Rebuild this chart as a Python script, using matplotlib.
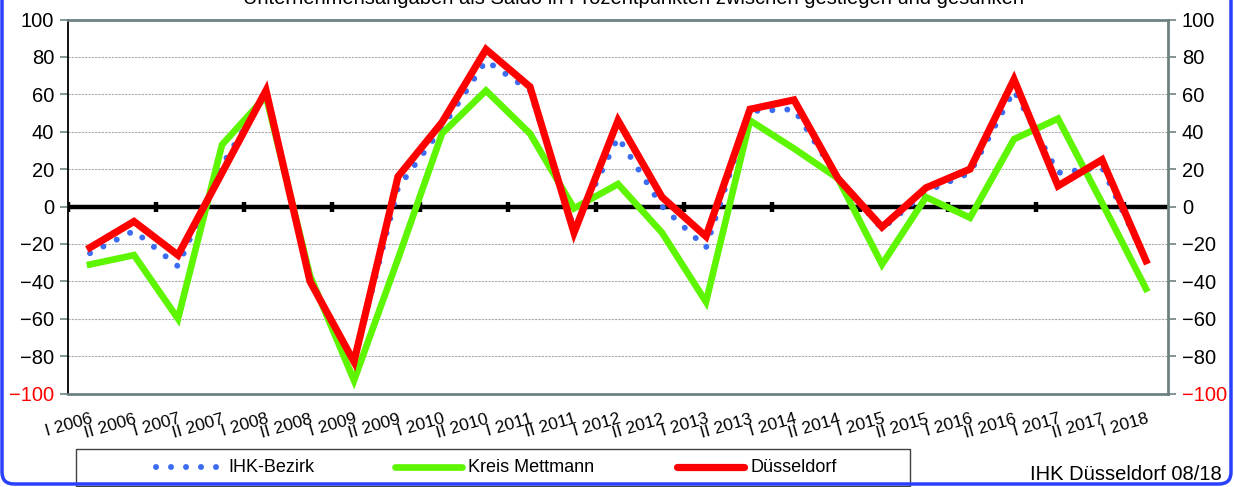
import numpy as np
import matplotlib
matplotlib.use("Agg")
import matplotlib.pyplot as plt
from matplotlib.lines import Line2D
from matplotlib.patches import Rectangle, FancyBboxPatch
import matplotlib.transforms as mtransforms

plt.rcParams['font.family'] = ['Liberation Sans', 'DejaVu Sans']

# Halbjahre
labels = ['I 2006', 'II 2006', 'I 2007', 'II 2007', 'I 2008', 'II 2008',
          'I 2009', 'II 2009', 'I 2010', 'II 2010', 'I 2011', 'II 2011',
          'I 2012', 'II 2012', 'I 2013', 'II 2013', 'I 2014', 'II 2014',
          'I 2015', 'II 2015', 'I 2016', 'II 2016', 'I 2017', 'II 2017',
          'I 2018']

ihk_bezirk = [-25, -13, -32, 22, 61, -40, -83, 10, 42, 78, 62, -12, 37,
              0, -22, 51, 52, 15, -12, 8, 18, 62, 18, 21, -29]
kreis_mettmann = [-31, -26, -60, 33, 59, -37, -93, -28, 39, 62, 39, -1, 12,
                  -14, -51, 46, 31, 15, -31, 5, -6, 36, 47, 2, -44]
duesseldorf = [-22, -8, -26, 18, 62, -40, -83, 16, 45, 84, 64, -14, 46,
               5, -16, 52, 57, 15, -11, 10, 20, 68, 11, 25, -29]

yticks = [100, 80, 60, 40, 20, 0, -20, -40, -60, -80, -100]

W, H = 1234, 487
BLUE = '#3b6cf2'
GREEN = '#5ef500'
RED = '#ff0000'
SPINE = '#6f8282'


def fx(px):
    return px / W


def fy(py):
    return 1 - py / H


fig = plt.figure(figsize=(W / 100, H / 100), dpi=100)
ax = fig.add_axes([fx(68), fy(393.5), 1100 / W, 374 / H])

x = np.arange(len(labels))

ax.axhline(0, color='black', lw=3.2, zorder=2)
bounds = np.arange(-0.5, len(labels) - 1, 2)
ax.plot(bounds, np.zeros(len(bounds)), ls='none', marker='|', ms=7.5,
        mew=3.2, color='black', zorder=2)

dot_style = (0, (0.01, 2.5))
ax.plot(x, ihk_bezirk, color=BLUE, lw=4.3, ls=dot_style,
        dash_capstyle='round', zorder=3)
ax.plot(x, kreis_mettmann, color=GREEN, lw=4.8, zorder=4,
        solid_joinstyle='miter')
ax.plot(x, duesseldorf, color=RED, lw=5.2, zorder=5, solid_joinstyle='miter')

ax.set_xlim(-0.5, len(labels) - 0.5)
ax.set_ylim(-100, 100)
ax.set_yticks(yticks)
ax.yaxis.grid(True, color='#a8a8a8', lw=0.8, ls=(0, (2, 1)))
ax.set_axisbelow(True)

ax.yaxis.set_ticks_position('both')
ax.tick_params(axis='y', which='major', direction='out', length=6, width=1.2,
               color=SPINE, labelsize=14.5, labelright=True, pad=4)

ax.set_xticks(x)
ax.set_xticklabels(labels, rotation=16, ha='right', va='top',
                   rotation_mode='anchor', fontsize=12.5)
ax.tick_params(axis='x', length=0, pad=13)

for side in ['top', 'right', 'bottom']:
    ax.spines[side].set_color(SPINE)
    ax.spines[side].set_linewidth(2)
ax.spines['left'].set_color('black')
ax.spines['left'].set_linewidth(1.3)

fig.text(0.513, fy(4), 'Unternehmensangaben als Saldo in Prozentpunkten '
         'zwischen gestiegen und gesunken', ha='center', va='baseline',
         fontsize=14.5)

# Legende
fig.add_artist(Rectangle((fx(76), fy(486)), (910 - 76) / W, 37 / H,
                         transform=fig.transFigure, fill=False,
                         edgecolor='#404040', lw=1))
ly = fy(467)
entries = [(156, 220, 228, 'IHK-Bezirk', BLUE, dot_style, 4.3),
           (395, 462, 468, 'Kreis Mettmann', GREEN, '-', 4.8),
           (677, 744, 751, 'Düsseldorf', RED, '-', 5.2)]
for x0, x1, xt, name, col, style, lw in entries:
    fig.add_artist(Line2D([fx(x0), fx(x1)], [ly, ly], transform=fig.transFigure,
                          color=col, lw=lw, ls=style, dash_capstyle='round',
                          solid_capstyle='round'))
    fig.text(fx(xt), ly, name, ha='left', va='center', fontsize=13)

fig.text(fx(1222), fy(474), 'IHK Düsseldorf 08/18', ha='right', va='center',
         fontsize=14.5)

# blauer Rahmen
frame = FancyBboxPatch((2, 3), 1229, 600, boxstyle='round,pad=0,rounding_size=12',
                       transform=mtransforms.IdentityTransform(), fill=False,
                       edgecolor='#2a40ff', lw=2.5)
fig.add_artist(frame)

# -100 rot
fig.canvas.draw()
for t in ax.yaxis.get_major_ticks():
    if np.isclose(t.get_loc(), -100):
        t.label1.set_color(RED)
        t.label2.set_color(RED)

fig.savefig('out.png', dpi=100)
